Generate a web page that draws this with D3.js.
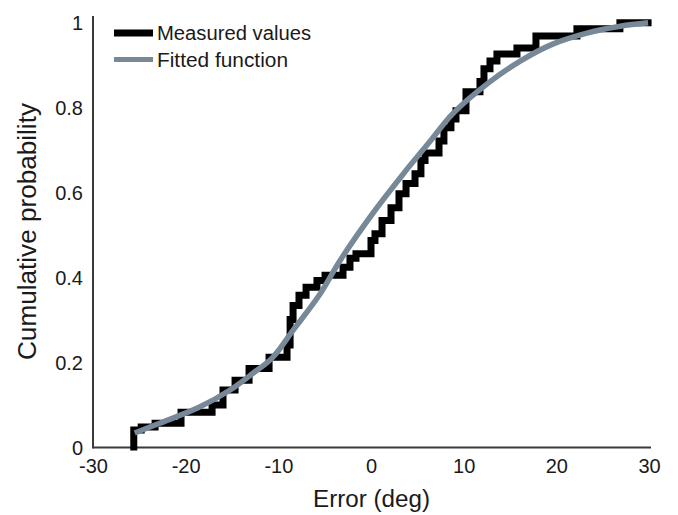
<!DOCTYPE html>
<html>
<head>
<meta charset="utf-8">
<script src="https://cdn.jsdelivr.net/npm/d3@7/dist/d3.min.js"></script>
<style>
  html, body { margin: 0; padding: 0; background: #fff; }
  svg text { font-family: "Liberation Sans", Arial, Helvetica, sans-serif; fill: #1a1a1a; }
</style>
</head>
<body>
<svg id="chart" width="678" height="515"></svg>
<script>
// Measured (empirical CDF) step values: level stepY[i] starts at stepX[i]
const stepX = [-25.6, -25.6, -24.8, -23.3, -20.5, -17.15, -15.97, -14.67, -13.16, -11.0,
               -9.06, -8.73, -8.41, -7.77, -7.01, -5.83, -4.96, -3.02, -2.27, -1.62,
               0.0, 0.43, 1.19, 2.16, 3.02, 3.78, 4.75, 5.39, 5.83, 7.34,
               7.87, 8.63, 9.17, 10.25, 11.76, 12.19, 12.84, 13.59, 15.75, 17.80,
               22.22, 26.86, 29.9];
const stepY = [0, 0.04, 0.047, 0.056, 0.082, 0.099, 0.134, 0.157, 0.185, 0.211,
               0.24, 0.30, 0.333, 0.357, 0.376, 0.392, 0.404, 0.423, 0.444, 0.455,
               0.486, 0.502, 0.533, 0.563, 0.596, 0.62, 0.643, 0.674, 0.692, 0.72,
               0.751, 0.772, 0.791, 0.836, 0.86, 0.89, 0.908, 0.925, 0.939, 0.967,
               0.984, 0.998, 0.998];

// Fitted function
const fitX = [-25.5, -22.8, -18.5, -15.2, -12.7, -10.6, -8.4, -5.5, -3.3, 0.2,
              3.5, 6.4, 8.8, 12.5, 16.1, 19.6, 23.3, 26.9, 29.9];
const fitY = [0.033, 0.056, 0.094, 0.134, 0.174, 0.211, 0.275, 0.36, 0.44, 0.55,
              0.643, 0.72, 0.784, 0.854, 0.908, 0.948, 0.974, 0.99, 0.998];

const xTicks = [-30, -20, -10, 0, 10, 20, 30];
const yTicks = [0, 0.2, 0.4, 0.6, 0.8, 1];
const legendLabels = ["Measured values", "Fitted function"];
const legendWidths = [154, 131];
const colors = ["#000000", "#778899"];

const svg = d3.select("#chart");
const x = d3.scaleLinear().domain([-30, 30]).range([93, 649]);
const y = d3.scaleLinear().domain([0, 1]).range([447, 22]);

// axes lines
svg.append("line").attr("x1", 93).attr("x2", 651).attr("y1", 447.5).attr("y2", 447.5)
  .attr("stroke", "#3a3a3a").attr("stroke-width", 2);
svg.append("line").attr("x1", 93).attr("x2", 93).attr("y1", 16).attr("y2", 448.5)
  .attr("stroke", "#3a3a3a").attr("stroke-width", 2);

// tick labels via axis generators (no tick lines)
const xAxis = d3.axisBottom(x).tickValues(xTicks).tickSize(0).tickPadding(0).tickFormat(d3.format("d"));
const gx = svg.append("g").attr("transform", "translate(0,459)").call(xAxis);
gx.select(".domain").remove();
gx.selectAll("text").attr("font-size", "20px").attr("dy", "0.71em")
  .text(d => d < 0 ? "-" + Math.abs(d) : d);

const yAxis = d3.axisLeft(y).tickValues(yTicks).tickSize(0).tickPadding(0)
  .tickFormat(d => d === 0 ? "0" : d === 1 ? "1" : d3.format(".1f")(d));
const gy = svg.append("g").attr("transform", "translate(83,0)").call(yAxis);
gy.select(".domain").remove();
gy.selectAll("text").attr("font-size", "20px").attr("dy", "0.36em");

// axis titles
svg.append("text").attr("x", 371.5).attr("y", 507).attr("text-anchor", "middle")
  .attr("font-size", "23.5px").attr("textLength", 117).attr("lengthAdjust", "spacingAndGlyphs")
  .text("Error (deg)");
svg.append("text").attr("transform", "translate(36,231.5) rotate(-90)").attr("text-anchor", "middle")
  .attr("font-size", "25px").attr("textLength", 257).attr("lengthAdjust", "spacingAndGlyphs")
  .text("Cumulative probability");

// data
const stepData = stepX.map((v, i) => [v, stepY[i]]);
const fitData = fitX.map((v, i) => [v, fitY[i]]);

svg.append("path").datum(stepData)
  .attr("d", d3.line().x(d => x(d[0])).y(d => y(d[1])).curve(d3.curveStepAfter))
  .attr("fill", "none").attr("stroke", colors[0]).attr("stroke-width", 7)
  .attr("stroke-linecap", "square").attr("stroke-linejoin", "miter");

svg.append("path").datum(fitData)
  .attr("d", d3.line().x(d => x(d[0])).y(d => y(d[1])).curve(d3.curveCatmullRom))
  .attr("fill", "none").attr("stroke", colors[1]).attr("stroke-width", 5.5)
  .attr("stroke-linecap", "butt");

// legend
const legend = svg.append("g");
legendLabels.forEach((lab, i) => {
  const cy = 33 + i * 26.5;
  legend.append("line").attr("x1", 114).attr("x2", 153).attr("y1", cy).attr("y2", cy)
    .attr("stroke", colors[i]).attr("stroke-width", i === 0 ? 7 : 5);
  legend.append("text").attr("x", 157).attr("y", cy + 7).attr("font-size", "19.5px")
    .attr("textLength", legendWidths[i]).attr("lengthAdjust", "spacingAndGlyphs").text(lab);
});
</script>
</body>
</html>
